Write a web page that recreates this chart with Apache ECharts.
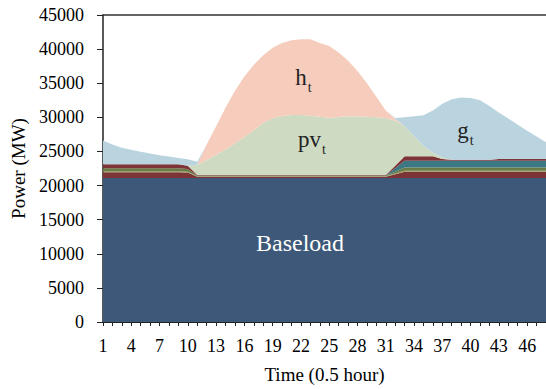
<!DOCTYPE html>
<html>
<head>
<meta charset="utf-8">
<script src="https://cdn.jsdelivr.net/npm/echarts@6/dist/echarts.min.js"></script>
<style>
  html, body { margin: 0; padding: 0; background: #fff; }
  #chart { width: 546px; height: 389px; }
</style>
</head>
<body>
<div id="chart"></div>
<script>
// half-hour slots
const categories = ['1','2','3','4','5','6','7','8','9','10','11','12','13','14','15','16',
  '17','18','19','20','21','22','23','24','25','26','27','28','29','30','31','32',
  '33','34','35','36','37','38','39','40','41','42','43','44','45','46','47','48']

// MW per slot, stacked bottom -> top
const baseload = [21100,21100,21100,21100,21100,21100,21100,21100,21100,21100,21100,21100,
  21100,21100,21100,21100,21100,21100,21100,21100,21100,21100,21100,21100,
  21100,21100,21100,21100,21100,21100,21100,21100,21100,21100,21100,21100,
  21100,21100,21100,21100,21100,21100,21100,21100,21100,21100,21100,21100]
const layerRed1 = [850,850,850,850,850,850,850,850,850,800,200,200,
  200,200,200,200,200,200,200,200,200,200,200,200,
  200,200,200,200,200,200,200,560,930,930,930,930,
  930,930,930,930,930,930,930,930,930,930,930,930]
const layerTan = [150,150,150,150,150,150,150,150,150,140,60,60,
  60,60,60,60,60,60,60,60,60,60,60,60,
  60,60,60,60,60,60,60,100,150,150,150,150,
  150,150,150,150,150,150,150,150,150,150,150,150]
const layerGreen = [440,440,440,440,440,440,440,440,440,400,100,100,
  100,100,100,100,100,100,100,100,100,100,100,100,
  100,100,100,100,100,100,100,280,450,450,450,450,
  450,450,450,450,450,450,450,450,450,450,450,450]
const layerTeal = [0,0,0,0,0,0,0,0,0,0,0,0,
  0,0,0,0,0,0,0,0,0,0,0,0,
  0,0,0,0,0,0,0,500,1000,1000,1000,1000,
  1000,1000,1000,1000,1000,1000,1000,1000,1000,1000,1000,1000]
const layerRed2 = [590,590,590,590,590,590,590,590,590,450,80,80,
  80,80,80,80,80,80,80,80,80,80,80,80,
  80,80,80,80,80,80,80,350,650,650,650,650,
  250,150,150,150,150,150,250,250,250,250,250,250]
const pv = [0,0,0,0,0,0,0,0,0,0,1500,2160,
  2960,3760,4660,5560,6560,7660,8310,8660,8810,8810,8710,8560,
  8360,8510,8610,8610,8560,8460,8360,6610,4420,3020,1520,520,
  220,0,0,0,0,0,0,0,0,0,0,0]
const h = [0,0,0,0,0,0,0,0,0,0,0,2300,
  4200,6100,7700,8900,9600,9900,10350,10700,10950,11100,11200,10800,
  10550,9450,8150,6650,4900,3000,1100,300,0,0,0,0,
  0,0,0,0,0,0,0,0,0,0,0,0]
const g = [3470,2870,2420,2120,1820,1570,1320,1120,920,960,460,0,
  0,0,0,0,0,0,0,0,0,0,0,0,
  0,0,0,0,0,0,0,100,1300,2850,4500,6200,
  7900,8870,9120,9070,8720,7870,6820,5950,5050,4150,3300,2450]

const yTicks = [0, 45000, 5000] // min, max, step

const serif = "'Liberation Serif', 'Times New Roman', serif"

const layers = [
  { name: 'Baseload', data: baseload, color: '#3d5878' },
  { name: 'red1', data: layerRed1, color: '#7c3436' },
  { name: 'tan', data: layerTan, color: '#98955c' },
  { name: 'green', data: layerGreen, color: '#6a7b45' },
  { name: 'teal', data: layerTeal, color: '#3c7784' },
  { name: 'red2', data: layerRed2, color: '#7c3436' },
  { name: 'pv', data: pv, color: '#cfdac3' },
  { name: 'h', data: h, color: '#f6cdbd' },
  { name: 'g', data: g, color: '#bad4df' }
]

const series = layers.map(l => ({
  name: l.name,
  type: 'line',
  stack: 'total',
  data: l.data,
  showSymbol: false,
  symbol: 'none',
  silent: true,
  animation: false,
  lineStyle: { width: 0 },
  areaStyle: { color: l.color, opacity: 1 }
}))

const chart = echarts.init(document.getElementById('chart'), null, { renderer: 'svg' })

chart.setOption({
  animation: false,
  grid: { left: 103, right: 0, top: 15, bottom: 66 },
  xAxis: [
    {
      type: 'category',
      data: categories,
      boundaryGap: false,
      name: 'Time (0.5 hour)',
      nameLocation: 'middle',
      nameGap: 43,
      nameTextStyle: { fontFamily: serif, fontSize: 19, color: '#000' },
      axisLine: { lineStyle: { color: '#222', width: 1 } },
      axisTick: { interval: 0, length: 4, lineStyle: { color: '#222' } },
      axisLabel: { interval: 2, margin: 15, fontFamily: serif, fontSize: 18, color: '#000' },
      splitLine: { show: false }
    },
    {
      type: 'category',
      data: categories,
      boundaryGap: false,
      position: 'top',
      axisLine: { lineStyle: { color: '#333', width: 1.5 } },
      axisTick: { show: false },
      axisLabel: { show: false },
      splitLine: { show: false }
    }
  ],
  yAxis: {
    type: 'value',
    min: yTicks[0],
    max: yTicks[1],
    interval: yTicks[2],
    name: 'Power (MW)',
    nameLocation: 'middle',
    nameGap: 70,
    nameTextStyle: { fontFamily: serif, fontSize: 19, color: '#000' },
    axisLine: { show: true, lineStyle: { color: '#222', width: 1.5 } },
    axisTick: { show: true, length: 6, lineStyle: { color: '#222' } },
    axisLabel: {
      margin: 19, fontFamily: serif, fontSize: 18, color: '#000',
      formatter: v => String(v)
    },
    splitLine: { show: false }
  },
  series
})

// annotation anchors in data space: [slot, MW]
const notes = [
  { text: 'h', sub: 't', at: [22.0, 35900], fill: '#222', size: 23 },
  { text: 'pv', sub: 't', at: [22.9, 26700], fill: '#222', size: 23 },
  { text: 'g', sub: 't', at: [39.2, 28000], fill: '#222', size: 23 },
  { text: 'Baseload', sub: '', at: [21.9, 11650], fill: '#fff', size: 24 }
]

const p0 = chart.convertToPixel({ seriesIndex: 0 }, [0, 0])
const p1 = chart.convertToPixel({ seriesIndex: 0 }, [47, 45000])
const toPx = (slot, mw) => [
  p0[0] + (slot - 1) / 47 * (p1[0] - p0[0]),
  p0[1] + mw / 45000 * (p1[1] - p0[1])
]

const graphic = []
notes.forEach(n => {
  const [x, y] = toPx(n.at[0], n.at[1])
  graphic.push({
    type: 'text',
    x: x, y: y,
    silent: true,
    z: 100,
    style: {
      text: n.text, fill: n.fill,
      fontSize: n.size, fontFamily: serif,
      align: 'center', verticalAlign: 'middle'
    }
  })
  if (n.sub) {
    const w = n.text.length * n.size * 0.5
    graphic.push({
      type: 'text',
      x: x + w / 2 + 1, y: y + 10,
      silent: true,
      z: 100,
      style: {
        text: n.sub, fill: n.fill,
        fontSize: 14, fontFamily: serif,
        align: 'left', verticalAlign: 'middle'
      }
    })
  }
})
chart.setOption({ graphic: graphic })
</script>
</body>
</html>
